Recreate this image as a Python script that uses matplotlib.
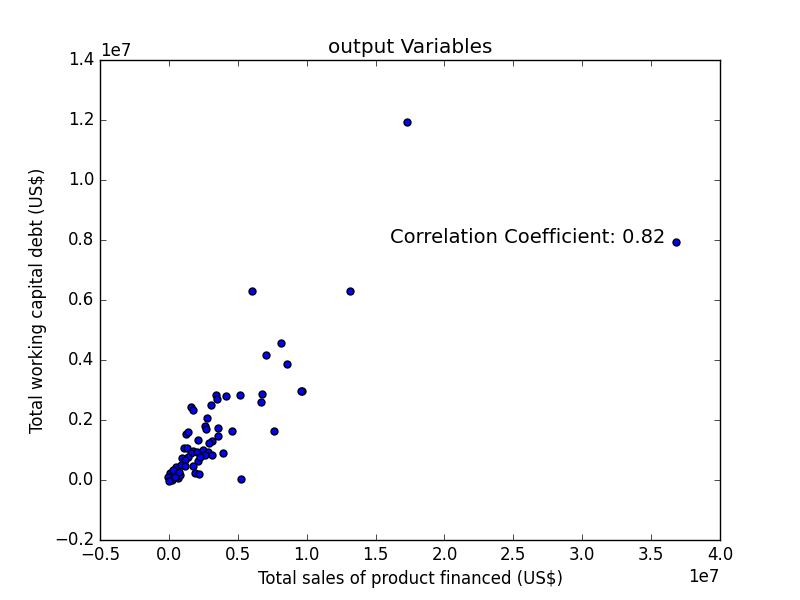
import matplotlib
matplotlib.use('Agg')
import matplotlib.pyplot as plt
import numpy as np

sales = [0.339,0.351,0.416,0.513,0.675,0.672,0.965,0.160,0.174,0.305,0.278,0.264,0.268,0.356,0.460,0.762,
         0.123,0.140,0.210,0.356,0.312,0.288,0.109,0.128,0.177,0.162,0.201,0.249,0.286,0.315,0.392,0.261,
         0.094,0.140,0.119,0.208,0.225,0.051,0.085,0.116,0.177,0.191,0.220,0.520,0.007,0.031,-0.005,0.019,
         0.068,0.080,0.044,0.002,0.075,1.727,3.68,1.313,0.602,0.704,0.813,0.856,0.958]
debt = [0.284,0.271,0.280,0.283,0.286,0.260,0.296,0.244,0.233,0.250,0.206,0.180,0.169,0.173,0.164,0.165,
        0.153,0.160,0.133,0.146,0.131,0.122,0.108,0.106,0.098,0.089,0.094,0.100,0.093,0.083,0.090,0.083,
        0.074,0.078,0.067,0.064,0.078,0.044,0.050,0.047,0.047,0.022,0.020,0.002,0.022,0.033,0.009,0.000,
        0.006,0.017,0.011,-0.002,0.028,1.193,0.793,0.630,0.630,0.417,0.457,0.387,0.297]

plt.style.use('classic')
fig, ax = plt.subplots(figsize=(8, 6), dpi=100)
ax.scatter(np.array(sales)*1e7, np.array(debt)*1e7, c='b', s=25)
ax.set_xlim(-0.5e7, 4.0e7)
ax.set_ylim(-0.2e7, 1.4e7)
ax.set_title('output Variables')
ax.set_xlabel('Total sales of product financed (US$)')
ax.set_ylabel('Total working capital debt (US$)')
ax.text(3.6e7, 0.81e7, 'Correlation Coefficient: 0.82', fontsize=14, ha='right', va='center')
fig.savefig('out.png')
